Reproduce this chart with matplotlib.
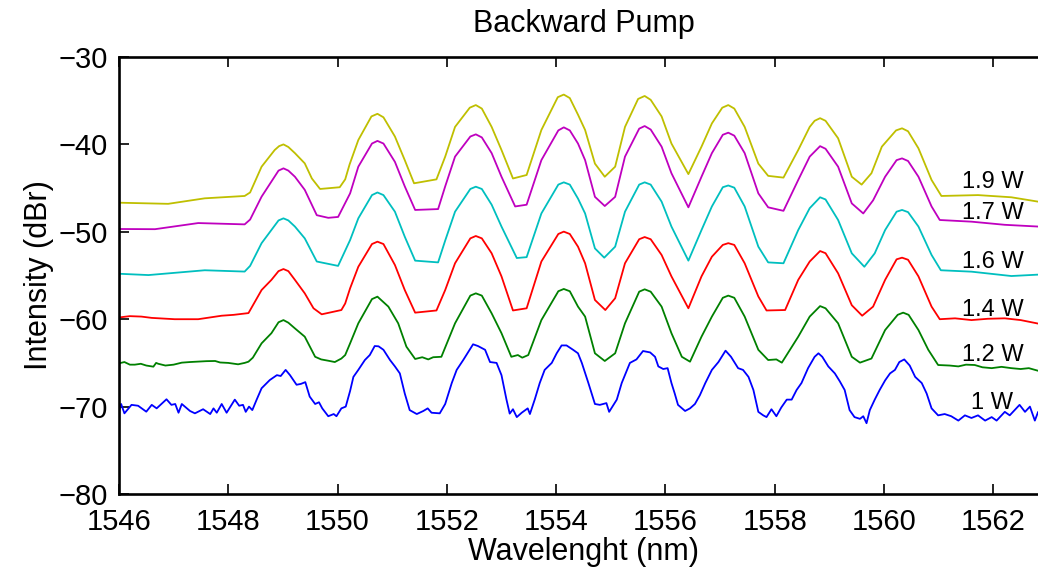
import matplotlib

matplotlib.use("Agg")
import matplotlib.pyplot as plt

# spectra, wavelength (nm) / intensity (dBr)
wl_19 = [1546.0, 1546.9, 1547.57, 1548.3, 1548.4, 1548.61, 1548.85, 1548.93, 1549.01, 1549.1, 1549.22, 1549.4,
         1549.53, 1549.68, 1550.04, 1550.14, 1550.22, 1550.38, 1550.62, 1550.73, 1550.84, 1551.05, 1551.23,
         1551.4, 1551.81, 1551.97, 1552.15, 1552.42, 1552.53, 1552.64, 1552.82, 1553.0, 1553.21, 1553.46,
         1553.73, 1554.03, 1554.14, 1554.25, 1554.4, 1554.53, 1554.71, 1554.89, 1555.08, 1555.26, 1555.5,
         1555.62, 1555.73, 1555.93, 1556.11, 1556.42, 1556.66, 1556.85, 1557.04, 1557.15, 1557.26, 1557.45,
         1557.7, 1557.88, 1558.16, 1558.43, 1558.64, 1558.73, 1558.83, 1558.93, 1559.16, 1559.41, 1559.59,
         1559.77, 1559.96, 1560.22, 1560.33, 1560.44, 1560.63, 1560.87, 1561.05, 1561.72, 1562.33, 1562.82,
         1563.0]
db_19 = [-46.67, -46.8, -46.17, -45.9, -45.5, -42.55, -40.64, -40.2, -40.0, -40.3, -41.0, -42.17,
         -43.9, -45.1, -44.9, -44.0, -42.3, -39.5, -36.8, -36.5, -36.9, -39.1, -41.8,
         -44.45, -44.0, -41.4, -38.0, -35.8, -35.5, -35.9, -38.0, -40.64, -43.9, -43.5,
         -38.35, -34.6, -34.3, -34.7, -36.6, -38.35, -42.2, -43.7, -42.55, -38.0, -34.8,
         -34.46, -34.9, -36.8, -39.9, -43.4, -40.26, -37.6, -35.8, -35.5, -35.9, -38.0,
         -42.2, -43.6, -43.8, -40.64, -38.0, -37.3, -37.0, -37.3, -39.3, -43.7, -44.6,
         -43.3, -40.26, -38.4, -38.16, -38.5, -40.45, -44.07, -45.9, -45.8, -46.05, -46.55,
         -46.6]

wl_17 = [1546.0, 1546.66, 1547.45, 1548.3, 1548.4, 1548.61, 1548.92, 1549.01, 1549.1, 1549.22, 1549.4,
         1549.62, 1549.83, 1550.01, 1550.23, 1550.38, 1550.63, 1550.73, 1550.84, 1551.05, 1551.23, 1551.42,
         1551.84, 1551.97, 1552.15, 1552.43, 1552.53, 1552.64, 1552.82, 1553.0, 1553.25, 1553.46, 1553.73,
         1554.04, 1554.14, 1554.25, 1554.4, 1554.53, 1554.71, 1554.89, 1555.08, 1555.26, 1555.52, 1555.62,
         1555.73, 1555.93, 1556.11, 1556.42, 1556.66, 1556.85, 1557.05, 1557.15, 1557.26, 1557.45, 1557.7,
         1557.88, 1558.16, 1558.43, 1558.64, 1558.83, 1558.93, 1559.16, 1559.41, 1559.62, 1559.8, 1560.02,
         1560.23, 1560.33, 1560.44, 1560.63, 1560.87, 1561.02, 1561.6, 1562.21, 1562.82, 1563.0]
db_17 = [-49.68, -49.7, -49.0, -49.15, -48.6, -45.98, -43.0, -42.74, -43.0, -43.7, -45.2,
         -48.1, -48.4, -48.3, -45.6, -42.55, -39.9, -39.6, -39.9, -42.0, -44.8, -47.5,
         -47.4, -44.8, -41.4, -39.1, -38.85, -39.2, -41.0, -43.7, -47.1, -46.9, -41.8,
         -38.4, -38.05, -38.4, -39.9, -41.8, -46.0, -47.05, -46.0, -41.4, -38.2, -37.9,
         -38.3, -40.26, -43.3, -47.2, -43.7, -41.0, -38.9, -38.66, -39.0, -41.0, -45.6,
         -47.2, -47.6, -44.07, -41.4, -40.2, -40.5, -42.55, -46.75, -47.9, -46.4, -43.7,
         -41.8, -41.6, -41.9, -43.7, -47.1, -48.65, -48.84, -49.2, -49.4, -49.45]

wl_16 = [1546.0, 1546.54, 1547.57, 1548.3, 1548.4, 1548.61, 1548.92, 1549.01, 1549.1, 1549.22, 1549.4,
         1549.62, 1550.01, 1550.23, 1550.38, 1550.63, 1550.73, 1550.84, 1551.05, 1551.23, 1551.42, 1551.84,
         1551.97, 1552.15, 1552.43, 1552.53, 1552.64, 1552.82, 1553.0, 1553.28, 1553.46, 1553.73, 1554.04,
         1554.14, 1554.25, 1554.4, 1554.53, 1554.71, 1554.88, 1555.08, 1555.26, 1555.52, 1555.62, 1555.73,
         1555.93, 1556.11, 1556.42, 1556.66, 1556.85, 1557.05, 1557.15, 1557.26, 1557.45, 1557.7, 1557.88,
         1558.16, 1558.43, 1558.64, 1558.83, 1558.93, 1559.16, 1559.41, 1559.64, 1559.83, 1560.02, 1560.23,
         1560.33, 1560.44, 1560.63, 1560.87, 1561.04, 1561.6, 1562.33, 1562.82, 1563.0]
db_16 = [-54.8, -54.95, -54.4, -54.55, -53.9, -51.3, -48.7, -48.46, -48.7, -49.4, -50.75,
         -53.4, -53.9, -50.94, -48.46, -45.8, -45.5, -45.8, -47.7, -50.56, -53.3, -53.5,
         -51.0, -47.7, -45.1, -44.84, -45.1, -46.9, -49.4, -53.0, -52.9, -47.9, -44.6,
         -44.34, -44.6, -46.2, -47.9, -51.9, -52.96, -51.7, -47.7, -44.6, -44.34, -44.6,
         -46.55, -49.4, -53.3, -49.8, -47.1, -44.9, -44.7, -44.95, -47.1, -51.7, -53.5,
         -53.6, -49.8, -47.3, -46.05, -46.3, -48.65, -52.46, -54.0, -52.46, -49.8, -47.7,
         -47.5, -47.75, -49.4, -52.65, -54.4, -54.56, -55.06, -54.9, -54.85]

wl_14 = [1546.0, 1546.2, 1546.41, 1546.6, 1547.02, 1547.45, 1547.88, 1548.1, 1548.37, 1548.61, 1548.79,
         1548.92, 1549.01, 1549.1, 1549.22, 1549.4, 1549.56, 1549.71, 1550.07, 1550.14, 1550.23, 1550.38,
         1550.63, 1550.73, 1550.84, 1551.05, 1551.23, 1551.42, 1551.81, 1551.97, 1552.15, 1552.43, 1552.53,
         1552.64, 1552.82, 1553.0, 1553.21, 1553.46, 1553.73, 1554.04, 1554.14, 1554.25, 1554.4, 1554.53,
         1554.71, 1554.9, 1555.08, 1555.26, 1555.52, 1555.62, 1555.73, 1555.93, 1556.11, 1556.42, 1556.66,
         1556.85, 1557.05, 1557.15, 1557.26, 1557.45, 1557.7, 1557.85, 1558.19, 1558.43, 1558.64, 1558.83,
         1558.93, 1559.16, 1559.41, 1559.6, 1559.8, 1560.02, 1560.23, 1560.33, 1560.44, 1560.63, 1560.87,
         1561.02, 1561.3, 1561.6, 1561.9, 1562.21, 1562.5, 1562.82, 1563.0]
db_14 = [-59.8, -59.65, -59.7, -59.85, -60.0, -60.0, -59.6, -59.5, -59.3, -56.66, -55.5,
         -54.5, -54.26, -54.5, -55.5, -57.04, -58.75, -59.44, -58.95, -58.2, -56.46, -54.0,
         -51.4, -51.13, -51.4, -53.8, -56.66, -59.25, -59.0, -56.66, -53.6, -50.75, -50.48,
         -50.75, -52.46, -55.1, -59.0, -58.75, -53.4, -50.25, -49.98, -50.25, -51.7, -53.6,
         -57.8, -58.95, -57.6, -53.6, -50.85, -50.6, -50.85, -52.65, -55.1, -58.75, -55.1,
         -52.85, -51.5, -51.3, -51.5, -53.6, -57.4, -59.0, -58.95, -55.5, -53.4, -52.2,
         -52.45, -54.75, -58.4, -59.6, -58.56, -55.5, -53.15, -52.96, -53.2, -55.1, -58.56,
         -60.0, -59.9, -60.1, -59.95, -59.9, -60.1, -60.5, -60.4]

wl_12 = [1546.0, 1546.1, 1546.2, 1546.29, 1546.4, 1546.5, 1546.63, 1546.68, 1546.72, 1546.85, 1547.0,
         1547.15, 1547.3, 1547.45, 1547.6, 1547.76, 1547.85, 1548.0, 1548.18, 1548.3, 1548.37, 1548.45,
         1548.61, 1548.79, 1548.92, 1549.01, 1549.1, 1549.22, 1549.4, 1549.59, 1549.7, 1549.83, 1549.95,
         1550.07, 1550.14, 1550.23, 1550.38, 1550.63, 1550.73, 1550.93, 1551.11, 1551.26, 1551.42, 1551.55,
         1551.66, 1551.75, 1551.9, 1552.15, 1552.43, 1552.53, 1552.64, 1552.82, 1553.0, 1553.18, 1553.3,
         1553.38, 1553.49, 1553.73, 1554.04, 1554.14, 1554.25, 1554.4, 1554.53, 1554.71, 1554.89, 1555.08,
         1555.26, 1555.52, 1555.62, 1555.73, 1555.93, 1556.11, 1556.3, 1556.45, 1556.66, 1556.85, 1557.05,
         1557.15, 1557.26, 1557.45, 1557.7, 1557.88, 1558.03, 1558.13, 1558.43, 1558.64, 1558.83, 1558.93,
         1559.16, 1559.41, 1559.56, 1559.77, 1560.02, 1560.25, 1560.35, 1560.45, 1560.63, 1560.81, 1560.99,
         1561.2, 1561.36, 1561.5, 1561.66, 1561.8, 1561.97, 1562.15, 1562.33, 1562.5, 1562.65, 1562.82,
         1563.0]
db_12 = [-65.05, -64.9, -65.2, -65.2, -65.1, -65.3, -65.43, -65.0, -65.1, -65.3, -65.2,
         -64.97, -64.9, -64.85, -64.8, -64.78, -64.95, -65.0, -65.16, -65.0, -64.86, -64.4,
         -62.76, -61.6, -60.35, -60.1, -60.4, -61.05, -62.0, -64.3, -64.6, -64.75, -64.9,
         -64.5, -64.1, -62.76, -60.47, -57.7, -57.42, -58.56, -60.47, -63.14, -64.55, -64.35,
         -64.6, -64.35, -64.3, -60.47, -57.3, -57.04, -57.3, -59.33, -61.6, -64.3, -64.1,
         -64.4, -64.1, -60.1, -56.8, -56.54, -56.8, -58.56, -59.7, -63.9, -64.78, -63.9,
         -60.47, -56.85, -56.58, -56.85, -58.56, -61.6, -64.3, -64.86, -62.0, -59.7, -57.55,
         -57.3, -57.55, -59.7, -63.5, -64.67, -64.6, -64.97, -62.0, -59.7, -58.5, -58.75,
         -60.47, -64.3, -64.97, -64.5, -61.24, -59.5, -59.25, -59.5, -61.24, -63.5, -65.24,
         -65.3, -65.4, -65.2, -65.24, -65.5, -65.6, -65.45, -65.6, -65.7, -65.6, -65.9,
         -65.85]

wl_10 = [1546.0, 1546.04, 1546.1, 1546.23, 1546.35, 1546.5, 1546.6, 1546.69, 1546.87, 1546.96, 1547.03,
         1547.09, 1547.15, 1547.3, 1547.39, 1547.54, 1547.67, 1547.73, 1547.79, 1547.88, 1547.97, 1548.12,
         1548.2, 1548.27, 1548.32, 1548.38, 1548.44, 1548.52, 1548.61, 1548.76, 1548.89, 1548.96, 1549.05,
         1549.13, 1549.25, 1549.33, 1549.41, 1549.49, 1549.59, 1549.66, 1549.72, 1549.83, 1549.93, 1549.98,
         1550.07, 1550.15, 1550.23, 1550.29, 1550.38, 1550.5, 1550.59, 1550.68, 1550.75, 1550.84, 1550.96,
         1551.05, 1551.14, 1551.23, 1551.32, 1551.45, 1551.57, 1551.65, 1551.72, 1551.87, 1551.97, 1552.09,
         1552.18, 1552.3, 1552.48, 1552.57, 1552.7, 1552.79, 1552.91, 1553.0, 1553.09, 1553.15, 1553.21,
         1553.28, 1553.37, 1553.48, 1553.52, 1553.61, 1553.7, 1553.79, 1553.92, 1554.01, 1554.1, 1554.19,
         1554.31, 1554.4, 1554.47, 1554.59, 1554.71, 1554.8, 1554.92, 1554.97, 1555.11, 1555.2, 1555.35,
         1555.47, 1555.59, 1555.72, 1555.81, 1555.87, 1555.96, 1556.04, 1556.11, 1556.17, 1556.23, 1556.36,
         1556.45, 1556.54, 1556.63, 1556.73, 1556.85, 1556.97, 1557.1, 1557.2, 1557.33, 1557.42, 1557.52,
         1557.61, 1557.7, 1557.79, 1557.85, 1557.94, 1558.03, 1558.12, 1558.22, 1558.31, 1558.4, 1558.49,
         1558.61, 1558.73, 1558.8, 1558.87, 1558.98, 1559.1, 1559.19, 1559.28, 1559.37, 1559.46, 1559.56,
         1559.62, 1559.68, 1559.74, 1559.83, 1559.92, 1560.02, 1560.11, 1560.2, 1560.28, 1560.37, 1560.47,
         1560.57, 1560.69, 1560.78, 1560.87, 1560.99, 1561.11, 1561.23, 1561.36, 1561.48, 1561.6, 1561.72,
         1561.85, 1561.97, 1562.06, 1562.21, 1562.3, 1562.39, 1562.48, 1562.58, 1562.67, 1562.76, 1562.82,
         1562.92]
db_10 = [-70.4, -69.7, -70.77, -69.8, -69.9, -70.58, -69.8, -70.2, -69.16, -69.8, -69.7,
         -70.7, -69.7, -70.5, -70.77, -70.3, -70.85, -70.2, -70.7, -69.7, -70.7, -69.2,
         -69.9, -69.8, -70.6, -70.0, -70.4, -69.2, -67.9, -66.96, -66.4, -66.5, -65.8,
         -66.4, -67.5, -67.4, -67.2, -68.85, -69.7, -69.5, -70.2, -71.1, -70.85, -71.1,
         -70.2, -70.0, -68.2, -66.6, -65.8, -64.67, -64.1, -63.07, -63.1, -63.5, -64.67,
         -65.4, -66.2, -68.5, -70.4, -70.85, -70.5, -70.2, -70.7, -70.77, -69.7, -67.3,
         -65.8, -64.67, -62.87, -63.07, -63.5, -64.9, -65.0, -66.4, -69.16, -70.8, -70.3,
         -71.2, -70.7, -70.2, -70.85, -69.16, -67.3, -65.8, -65.0, -63.9, -63.0, -63.0,
         -63.5, -63.9, -65.0, -67.3, -69.7, -69.8, -69.6, -70.6, -69.2, -67.3, -65.0,
         -64.6, -63.64, -63.8, -64.3, -65.4, -65.7, -65.6, -67.3, -68.5, -69.8, -70.5,
         -70.2, -69.7, -68.7, -67.3, -65.8, -64.9, -63.6, -64.3, -65.6, -65.8, -66.6,
         -68.1, -70.6, -71.0, -71.2, -70.3, -71.1, -70.1, -69.2, -69.2, -68.1, -67.3,
         -65.6, -64.3, -63.9, -64.3, -65.4, -66.2, -67.1, -68.1, -70.4, -71.2, -71.4,
         -71.1, -71.9, -70.4, -69.2, -68.1, -67.0, -66.2, -65.8, -64.9, -64.6, -65.3,
         -66.6, -67.3, -68.5, -70.2, -71.0, -70.85, -71.1, -71.6, -71.0, -71.3, -71.0,
         -71.6, -71.2, -71.6, -70.6, -71.0, -70.4, -69.8, -70.6, -70.0, -71.6, -70.6,
         -71.2]

labels = ["1.9 W", "1.7 W", "1.6 W", "1.4 W", "1.2 W", "1 W"]
label_x = [1561.43, 1561.43, 1561.43, 1561.43, 1561.43, 1561.6]
label_y = [-44.3, -47.8, -53.4, -58.9, -64.1, -69.6]

plt.rcParams["font.family"] = ["Liberation Sans", "DejaVu Sans"]

fig = plt.figure(figsize=(10.38, 5.78), dpi=100)
# the right edge of the axes runs slightly past the figure, as in the source
ax = fig.add_axes([0.1146, 0.1453, 0.895, 0.7561])

series = [
    (wl_10, db_10, (0, 0, 1)),
    (wl_12, db_12, (0, 0.5, 0)),
    (wl_14, db_14, (1, 0, 0)),
    (wl_16, db_16, (0, 0.75, 0.75)),
    (wl_17, db_17, (0.75, 0, 0.75)),
    (wl_19, db_19, (0.75, 0.75, 0)),
]
for wl, db, col in series:
    ax.plot(wl, db, "-", color=col, lw=1.3)

for txt, tx, ty in zip(labels, label_x, label_y):
    ax.text(tx, ty, txt, fontsize=17, ha="left", va="center")

ax.set_xlim(1546, 1563)
ax.set_ylim(-80, -30)
ax.set_xticks(range(1546, 1563, 2))
ax.set_yticks(range(-80, -29, 10))
ax.tick_params(direction="in", top=True, right=True, length=7, width=1.2,
               labelsize=21, pad=8)
ax.tick_params(axis="x", pad=10)
for sp in ax.spines.values():
    sp.set_linewidth(1.9)

ax.set_xlabel("Wavelenght (nm)", fontsize=22, labelpad=1)
ax.set_ylabel("Intensity (dBr)", fontsize=22, labelpad=3)
ax.set_title("Backward Pump", fontsize=22, pad=18)

fig.savefig("out.png", dpi=100)
